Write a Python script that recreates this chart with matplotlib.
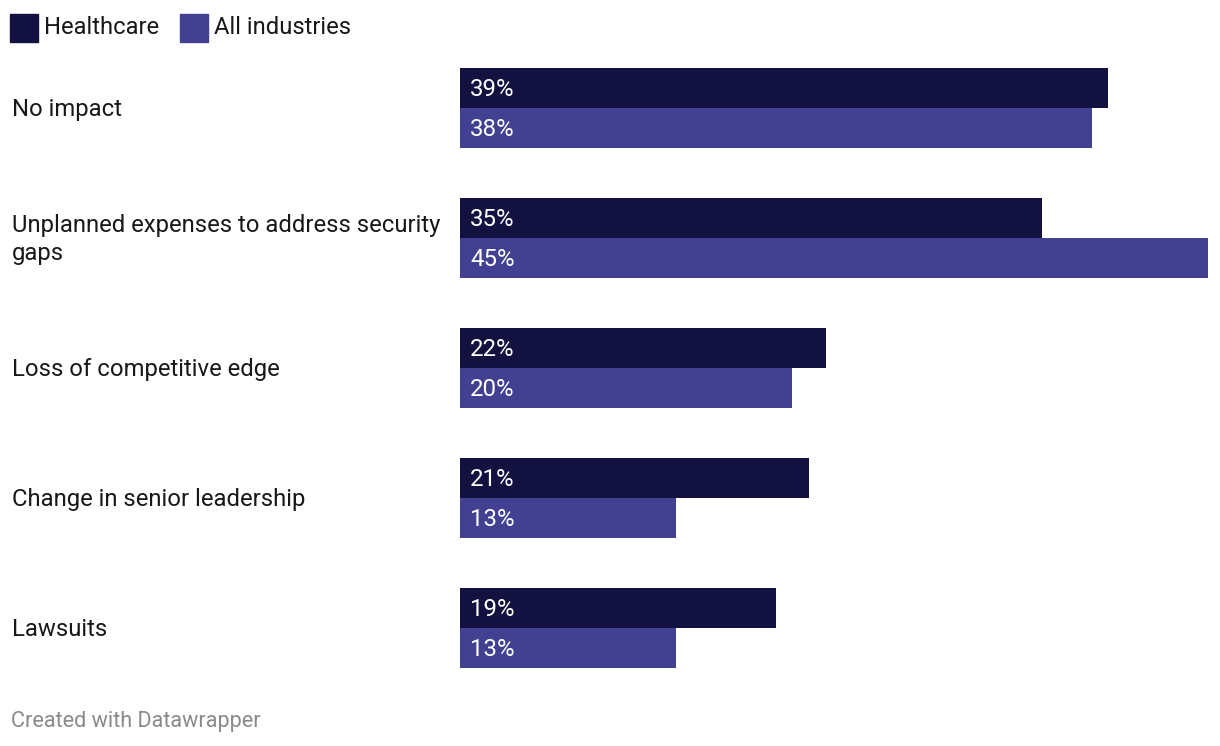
import matplotlib.pyplot as plt
from matplotlib.patches import Rectangle

plt.rcParams['font.family'] = ['Roboto', 'DejaVu Sans']

# ---------------- donnees -----------------
categories = ["No impact", "Unplanned expenses to address security\ngaps",
              "Loss of competitive edge", "Change in senior leadership", "Lawsuits"]
healthcare = [39, 35, 22, 21, 19]
all_industries = [38, 45, 20, 13, 13]
series_names = ["Healthcare", "All industries"]
colors = ["#12113f", "#424090"]

W, H = 1220, 746
fig = plt.figure(figsize=(W / 100, H / 100), dpi=100)

# axes des barres : x de 460 a 1208 px, y de 68 a 668 px
ax = fig.add_axes([460 / W, 1 - 668 / H, 748 / W, 600 / H])
ax.set_xlim(0, 45)
ax.set_ylim(600, 0)
ax.axis('off')

step, bh = 130, 40
for i, (cat, hc, al) in enumerate(zip(categories, healthcare, all_industries)):
    y0 = i * step
    ax.barh(y0 + bh / 2, hc, height=bh, color=colors[0], align='center')
    ax.barh(y0 + 1.5 * bh, al, height=bh, color=colors[1], align='center')
    ax.text(0.62, y0 + bh / 2 + 1.8, f"{hc}%", color='white', fontsize=17.3, va='center', ha='left')
    ax.text(0.62, y0 + 1.5 * bh + 1.8, f"{al}%", color='white', fontsize=17.3, va='center', ha='left')
    # libelle de categorie
    fig.text(12 / W, 1 - (69.5 + y0 + bh) / H, cat, fontsize=17.2, color='#181818',
             va='center', ha='left', linespacing=1.27)

# legende
for k, (name, c, x) in enumerate(zip(series_names, colors, [10, 180])):
    fig.patches.append(Rectangle((x / W, 1 - 42 / H), 28 / W, 28 / H, color=c,
                                 transform=fig.transFigure, figure=fig))
    fig.text((x + 34) / W, 1 - 27.5 / H, name, fontsize=17.1, color='#181818', va='center', ha='left')

fig.text(11 / W, 1 - 721 / H, "Created with Datawrapper", fontsize=15.6, color='#8a8a8a',
         va='center', ha='left')

fig.savefig("out.png", dpi=100)
